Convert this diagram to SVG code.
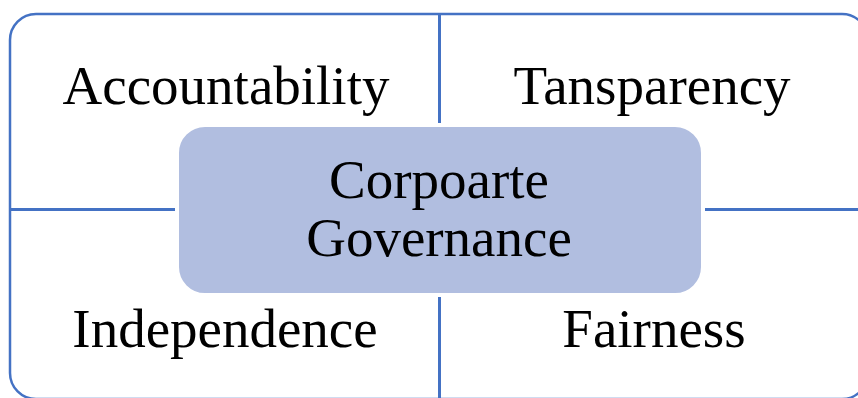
<svg xmlns="http://www.w3.org/2000/svg" width="858" height="398" viewBox="0 0 858 398">
  <style>
    .frame { fill: none; stroke: #4472C4; stroke-width: 2.5; }
    .divider { stroke: #4472C4; stroke-width: 3; }
    .core { fill: #B1BEE0; stroke: #FFFFFF; stroke-width: 4; }
    .label { font-family: "Liberation Serif", "Times New Roman", serif; font-size: 55px; fill: #000000; text-anchor: middle; }
  </style>
  <rect width="858" height="398" fill="#FFFFFF"/>

  <!-- outer frame and quadrant dividers -->
  <g id="connectors">
    <rect class="frame" x="10" y="14" width="858" height="385" rx="26" ry="26"/>
    <line class="divider" x1="439.5" y1="14" x2="439.5" y2="399"/>
    <line class="divider" x1="10" y1="209.5" x2="868" y2="209.5"/>
  </g>

  <g id="accountability">
    <text class="label" x="226" y="104" font-family="Liberation Serif, serif">Accountability</text>
  </g>
  <g id="transparency">
    <text class="label" x="652" y="104" font-family="Liberation Serif, serif">Tansparency</text>
  </g>
  <g id="independence">
    <text class="label" x="225" y="347" font-family="Liberation Serif, serif">Independence</text>
  </g>
  <g id="fairness">
    <text class="label" x="654" y="347" font-family="Liberation Serif, serif">Fairness</text>
  </g>

  <g id="corporate-governance">
    <rect class="core" x="177" y="125" width="526" height="170" rx="28" ry="28"/>
    <text class="label" x="439" y="198" font-family="Liberation Serif, serif">Corpoarte</text>
    <text class="label" x="439" y="256" font-family="Liberation Serif, serif">Governance</text>
  </g>
</svg>
